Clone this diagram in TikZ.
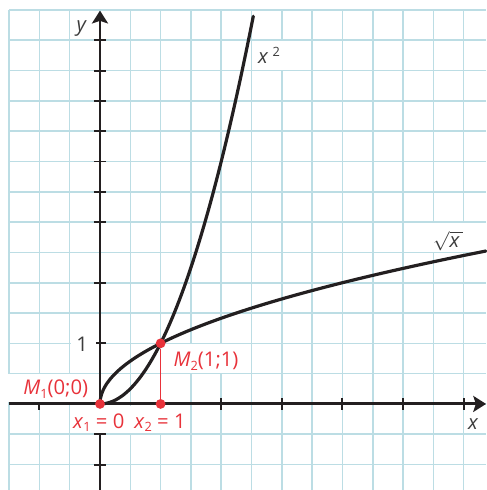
\documentclass[tikz,border=0pt]{standalone}
\usepackage{fontspec}
\setmainfont{Open Sans}
\usetikzlibrary{arrows.meta}
\definecolor{gridc}{RGB}{188,221,228}
\definecolor{redc}{RGB}{232,50,58}
\definecolor{inkc}{RGB}{35,31,32}
\definecolor{txtc}{RGB}{60,60,60}
\tikzset{
  gridline/.style={draw=gridc, line width=0.75pt},
  axisline/.style={draw=inkc, line width=1.4pt, -{Stealth[length=6pt,width=7.5pt,inset=1.2pt]}},
  tickline/.style={draw=inkc, line width=0.9pt},
  curve/.style={draw=inkc, line width=1.5pt, line cap=round},
  reddot/.style={circle, fill=redc, inner sep=0pt, minimum size=4.6pt},
  redlab/.style={text=redc, font=\fontsize{9.5}{11}\selectfont, inner sep=0pt},
  axlab/.style={text=txtc, font=\fontsize{9.5}{11}\selectfont, inner sep=0pt},
  mask/.style={fill=white},
}
\newcommand{\lowsub}[1]{\raisebox{-1.8pt}{\fontsize{6}{7}\selectfont #1}}
\begin{document}
\begin{tikzpicture}
\useasboundingbox (-1.65,-1.42) rectangle (6.37,6.665);
% grid
\draw[gridline] (-1.5,-1.42) grid[step=0.5] (6.37,6.5);
% y axis and its ticks
\coordinate (ys) at (0,-1.42);
\coordinate (ye) at (0,6.49);
\foreach \t in {-1,-0.5,1,2,3,3.5,4,4.5,5,5.5,6} \draw[tickline] (-0.1,\t) -- (0.1,\t);
\draw[axisline] (ys) -- (ye);
% white label backgrounds
\fill[mask] (-1.65,0.025) rectangle (-0.485,0.488);
\fill[mask] (-0.485,-0.03) rectangle (1.485,-0.475);
\fill[mask] (1.015,0.512) rectangle (2.485,0.988);
\fill[mask] (2.515,5.512) rectangle (3.485,5.988);
\fill[mask] (5.015,2.512) rectangle (6.37,2.988);
\fill[mask] (-0.485,0.8) rectangle (-0.06,1.2);
% x axis and its ticks
\coordinate (xs) at (-1.5,0);
\coordinate (xe) at (6.37,0);
\foreach \t in {-1,2,3,4,5,6} \draw[tickline] (\t,-0.1) -- (\t,0.1);
\fill[mask] (-1.2,0.025) rectangle (-0.8,0.12);
\draw[axisline] (xs) -- (xe);
% curves
\draw[curve] plot[domain=0:2.53, samples=80, smooth] (\x,{\x*\x});
\draw[curve] plot[domain=0:2.524, samples=80, smooth] ({\x*\x},\x);
% points
\node[reddot] (m1) at (0,0) {};
\node[reddot] (p2) at (1,0) {};
\node[reddot] (m2) at (1,1) {};
\draw[redc, line width=0.8pt] (p2) -- (m2);
% labels
\node[axlab] (ly) at (-0.3,6.2) {\textit{y}};
\node[axlab] (lx) at (6.16,-0.33) {\textit{x}};
\node[axlab, anchor=east] (l1) at (-0.19,0.99) {1};
\node[axlab] (lsq) at (2.79,5.75) {\textit{x}\kern2pt\raisebox{3.5pt}{\fontsize{6}{7}\selectfont 2}};
\node[axlab] (lrt) at (5.74,2.69) {$\sqrt{\textit{x}\,}$};
\node[redlab] (t1) at (-0.73,0.25) {\textit{M}\lowsub{1}(0;0)};
\node[redlab] (t2) at (1.75,0.71) {\textit{M}\lowsub{2}(1;1)};
\node[redlab] (t3) at (-0.02,-0.31) {\textit{x}\lowsub{1} = 0};
\node[redlab] (t4) at (0.99,-0.31) {\textit{x}\lowsub{2} = 1};
\end{tikzpicture}
\end{document}
